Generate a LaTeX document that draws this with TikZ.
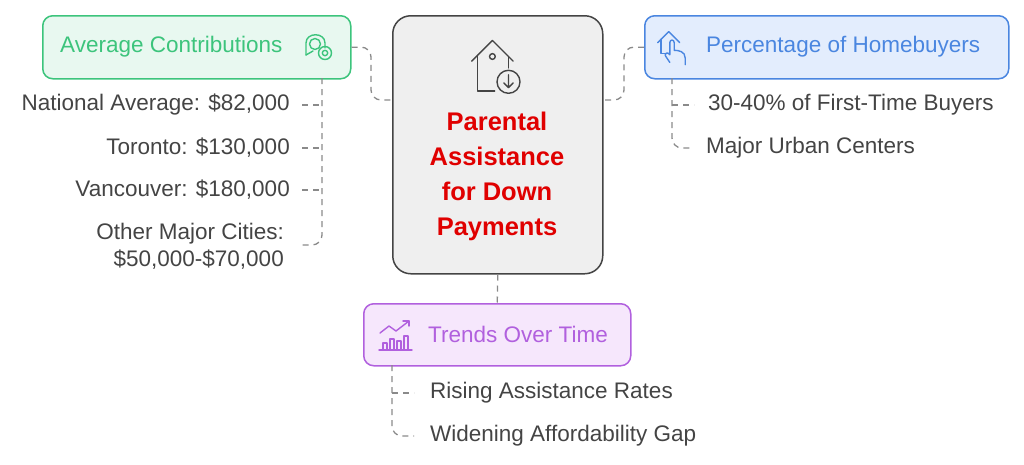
\documentclass[tikz,border=0pt]{standalone}
\usepackage{fontspec}
\setmainfont{Liberation Sans}
\usetikzlibrary{arrows.meta}
\definecolor{gtxt}{HTML}{3CC47C}\definecolor{gfill}{HTML}{E8F8F0}
\definecolor{btxt}{HTML}{4A86E0}\definecolor{bfill}{HTML}{E3EDFD}
\definecolor{ptxt}{HTML}{B160DE}\definecolor{pfill}{HTML}{F6E7FC}
\definecolor{cfill}{HTML}{EFEFEF}\definecolor{cline}{HTML}{444444}
\definecolor{ttxt}{HTML}{444444}\definecolor{conn}{HTML}{8A8A8A}
\definecolor{red1}{HTML}{E00000}
\tikzset{
 box/.style={draw, line width=1.5pt, rounded corners=10pt, minimum height=63pt, inner sep=0pt},
 lbl/.style={font=\fontsize{22.5}{27}\selectfont, text=ttxt, inner sep=0pt},
 ttl/.style={font=\fontsize{22.5}{27}\selectfont, inner sep=0pt, anchor=west},
 con/.style={draw=conn, line width=1.3pt, dash pattern=on 6pt off 5pt, rounded corners=10pt},
 ic/.style={line width=1.4pt, line cap=round, line join=round}
}
\begin{document}
\begin{tikzpicture}[x=1pt,y=-1pt]
\useasboundingbox (0,0) rectangle (1024,464);
% boxes
\node[box, draw=gtxt, fill=gfill, minimum width=308pt, anchor=north west] (g) at (42,15) {};
\node[ttl, text=gtxt] (gt) at (60,47) {Average Contributions};
\node[box, draw=cline, fill=cfill, minimum width=210pt, minimum height=258pt, rounded corners=18pt, anchor=north west] (c) at (392,15) {};
\node[font=\fontsize{25.5}{35}\selectfont\bfseries, text=red1, align=center] (ct) at (497,176) {Parental\\Assistance\\for Down\\Payments};
\node[box, draw=btxt, fill=bfill, minimum width=364pt, anchor=north west] (b) at (644,15) {};
\node[ttl, text=btxt] (bt) at (706,47) {Percentage of Homebuyers};
\node[box, draw=ptxt, fill=pfill, minimum width=267pt, minimum height=62pt, anchor=north west] (p) at (363,303) {};
\node[ttl, text=ptxt] (pt) at (428,334) {Trends Over Time};
% left items
\node[lbl, anchor=east] (l1) at (290,105) {National Average: \$82,000};
\node[lbl, anchor=east] (l2) at (290,148) {Toronto: \$130,000};
\node[lbl, anchor=east] (l3) at (290,190) {Vancouver: \$180,000};
\node[lbl, anchor=east, align=right] (l4) at (284,246) {Other Major Cities:\\\$50,000-\$70,000};
\node[lbl, anchor=west] (r1) at (708,105) {30-40\% of First-Time Buyers};
\node[lbl, anchor=west] (r2) at (706,148) {Major Urban Centers};
\node[lbl, anchor=west] (q1) at (430,393) {Rising Assistance Rates};
\node[lbl, anchor=west] (q2) at (430,436) {Widening Affordability Gap};
% connectors
\coordinate (gc) at (322,78);
\draw[con] (g.east) -- (371,47) -- (371,100) -- (c.west|-0,100);
\draw[con] (b.west) -- (624,47) -- (624,100) -- (c.east|-0,100);
\draw[con] (c.south) -- (p.north);
\draw[con] (gc) -- (322,245) -- (300,245);
\draw[con] (l1.east)++(12,0) -- (322,105);
\draw[con] (l2.east)++(12,0) -- (322,148);
\draw[con] (l3.east)++(12,0) -- (322,190);
\draw[con] (672,78) -- (672,148) -- (694,148);
\draw[con] (672,105) -- (694,105);
\draw[con] (392,365) -- (392,436) -- (414,436);
\draw[con] (392,393) -- (414,393);
% icons
\begin{scope}[ic, draw=gtxt, shift={(318,47)}]
 \draw (-12,8) -- (-12,-4) .. controls (-12,-15) and (7,-15) .. (7,-4) -- (7,1);
 \draw (-3,-3) circle (5.5);
 \draw (-12,8) -- (-5,4);
 \draw (7,6) circle (6.5); \draw (7,6) circle (2.7);
\end{scope}
\begin{scope}[ic, draw=cline, shift={(497,68)}, scale=1.15]
 \draw (-22,-6) -- (-4,-24) -- (14,-6);
 \draw (-17,-11) -- (-17,20) -- (-2,20);
 \draw (10,-10) -- (10,0);
 \draw (-4,-10) circle (2.5);
 \draw (10,12) circle (10);
 \draw (10,6) -- (10,17) (6,13) -- (10,17) -- (14,13);
\end{scope}
\begin{scope}[ic, draw=btxt, shift={(672,47)}, scale=1.1]
 \draw (-13,-4) -- (-3,-14) -- (7,-4);
 \draw (-10,-7) -- (-10,6) -- (-6,6);
 \draw (-2,14) -- (-6,8) .. controls (-7,6) and (-4,4) .. (-2,7) -- (-2,-4) .. controls (-2,-7) and (2,-7) .. (2,-4) -- (2,3) .. controls (6,3) and (12,4) .. (12,10) -- (12,16);
\end{scope}
\begin{scope}[ic, draw=ptxt, shift={(395,334)}]
 \draw (-16,16) -- (17,16);
 \foreach \xx/\hh in {-12/6,-5/10,2/8,9/13} \draw (\xx,15) -- (\xx,15-\hh) -- (\xx+4,15-\hh) -- (\xx+4,15);
 \draw (-15,-1) -- (-6,-8) -- (1,-3) -- (14,-13);
 \draw (8,-13) -- (14,-13) -- (14,-8);
\end{scope}
\end{tikzpicture}
\end{document}
